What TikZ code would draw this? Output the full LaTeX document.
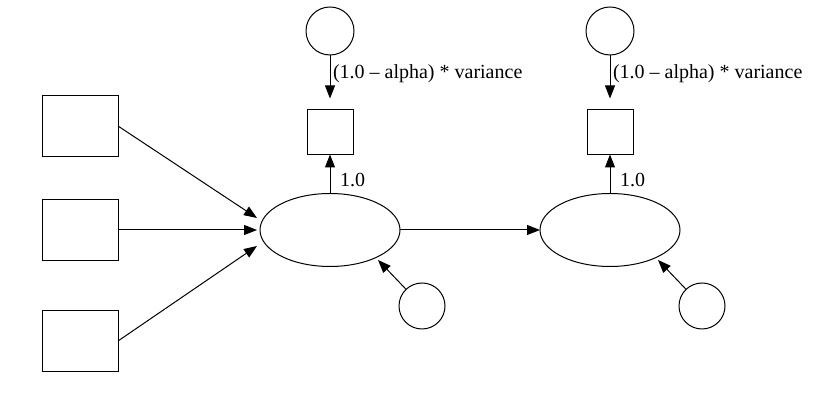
\documentclass[tikz,border=0pt]{standalone}
\usepackage{fontspec}
\setmainfont{Liberation Serif}
\usepackage{tikz}
\usetikzlibrary{calc,shapes.geometric,arrows.meta}

\begin{document}
\begin{tikzpicture}[inner sep=0pt,outer sep=0pt,line width=0.5pt,
    every node/.style={font=\fontsize{10pt}{12pt}\selectfont},
    obsbox/.style={draw,minimum width=38pt,minimum height=30.5pt},
    indbox/.style={draw,minimum width=23pt,minimum height=22.5pt},
    latent/.style={draw,ellipse,minimum width=70pt,minimum height=36.5pt},
    varcirc/.style={draw,circle,minimum size=24pt},
    errcirc/.style={draw,circle,minimum size=23pt},
    path/.style={-{Triangle[length=6.5pt,width=5pt]}}]
    \useasboundingbox (0pt,0pt) rectangle (415pt,-197pt);

    % observed inputs
    \node[obsbox] (in1) at (40pt,-63pt) {};
    \node[obsbox] (in2) at (40pt,-115pt) {};
    \node[obsbox] (in3) at (40pt,-170.5pt) {};

    % latent variables
    \node[latent] (lat1) at (165pt,-115pt) {};
    \node[latent] (lat2) at ($(lat1) + (140pt,0pt)$) {};

    % indicators and their variances
    \node[indbox] (ind1) at ($(lat1) + (0pt,49pt)$) {};
    \node[indbox] (ind2) at ($(lat2) + (0pt,49pt)$) {};
    \node[varcirc] (var1) at ($(ind1) + (0pt,50.5pt)$) {};
    \node[varcirc] (var2) at ($(ind2) + (0pt,50.5pt)$) {};

    % disturbances
    \node[errcirc] (err1) at ($(lat1) + (46pt,-38pt)$) {};
    \node[errcirc] (err2) at ($(lat2) + (46pt,-38pt)$) {};
    \coordinate (lat1_in) at ($(lat1) + (24pt,-15pt)$);
    \coordinate (lat2_in) at ($(lat2) + (24pt,-15pt)$);
    \coordinate (lat1_a) at ($(lat1.west) + (-1.5pt,6pt)$);
    \coordinate (lat1_b) at ($(lat1.west) + (-1.5pt,0pt)$);
    \coordinate (lat1_c) at ($(lat1.west) + (-1.5pt,-8pt)$);

    % paths
    \draw[path] (in1.east) -- (lat1_a);
    \draw[path] (in2.east) -- (lat1_b);
    \draw[path] (in3.east) -- (lat1_c);
    \draw[path] (lat1.east) -- (lat2.west);
    \draw[path] (err1) -- (lat1_in);
    \draw[path] (err2) -- (lat2_in);

    \draw[path] (lat1.north) -- (ind1.south)
        node[pos=0.35, anchor=west, xshift=5pt] {1.0};
    \draw[path] (lat2.north) -- (ind2.south)
        node[pos=0.35, anchor=west, xshift=5pt] {1.0};
    \draw[path, shorten >=5.5pt] (var1.south) -- (ind1.north)
        node[pos=0.35, anchor=west, xshift=1.5pt] {(1.0 -- alpha) * variance};
    \draw[path, shorten >=5.5pt] (var2.south) -- (ind2.north)
        node[pos=0.35, anchor=west, xshift=1.5pt] {(1.0 -- alpha) * variance};

\end{tikzpicture}
\end{document}
